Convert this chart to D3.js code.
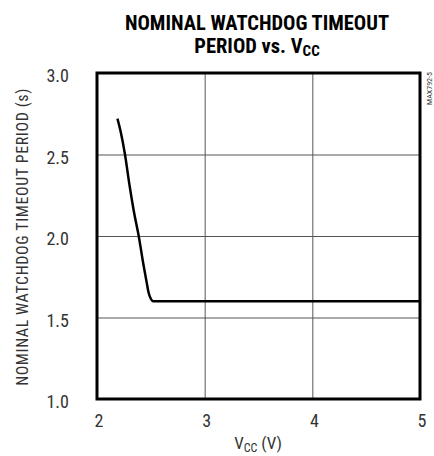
<!DOCTYPE html>
<html>
<head>
<meta charset="utf-8">
<script src="https://cdn.jsdelivr.net/npm/d3@7"></script>
<style>
  body { margin: 0; background: #fff; }
  text { font-family: "Liberation Sans Narrow", "Arial Narrow", "Roboto Condensed", sans-serif; }
</style>
</head>
<body>
<svg id="chart" width="434" height="456"></svg>
<script>
// Watchdog timeout period vs supply voltage
const vcc = [2.19, 2.22, 2.26, 2.30, 2.34, 2.39, 2.43, 2.46, 2.48, 2.50, 2.52, 2.60, 3.0, 4.0, 5.0];
const period = [2.72, 2.64, 2.50, 2.32, 2.16, 1.99, 1.83, 1.72, 1.65, 1.615, 1.60, 1.60, 1.60, 1.60, 1.60];
const xTicks = [2, 3, 4, 5];
const yTicks = [1.0, 1.5, 2.0, 2.5, 3.0];

const svg = d3.select('#chart');
const plot = { left: 97, right: 420, top: 73, bottom: 399 };

const x = d3.scaleLinear().domain([2, 5]).range([plot.left, plot.right]);
const y = d3.scaleLinear().domain([1, 3]).range([plot.bottom, plot.top]);

// grid
svg.append('g')
    .attr('transform', `translate(0,${plot.bottom})`)
    .call(d3.axisBottom(x).tickValues(xTicks.slice(1, -1)).tickSize(-(plot.bottom - plot.top)).tickFormat(''))
    .call(g => g.select('.domain').remove())
    .call(g => g.selectAll('line').attr('stroke', '#555').attr('stroke-width', 1));
svg.append('g')
    .attr('transform', `translate(${plot.left},0)`)
    .call(d3.axisLeft(y).tickValues(yTicks.slice(1, -1)).tickSize(-(plot.right - plot.left)).tickFormat(''))
    .call(g => g.select('.domain').remove())
    .call(g => g.selectAll('line').attr('stroke', '#555').attr('stroke-width', 1));

// frame
svg.append('rect')
    .attr('x', plot.left).attr('y', plot.top)
    .attr('width', plot.right - plot.left).attr('height', plot.bottom - plot.top)
    .attr('fill', 'none').attr('stroke', '#000').attr('stroke-width', 3);

// curve
const line = d3.line().x((d, i) => x(vcc[i])).y(d => y(d)).curve(d3.curveMonotoneX);
svg.append('path')
    .datum(period)
    .attr('d', line)
    .attr('fill', 'none')
    .attr('stroke', '#000')
    .attr('stroke-width', 2.5);

// tick labels
svg.selectAll('.xl').data(xTicks).enter().append('text')
    .attr('x', d => x(d) + 2).attr('y', 427)
    .attr('text-anchor', 'middle').attr('font-size', 18).attr('fill', '#333')
    .text(d => d);
svg.selectAll('.yl').data(yTicks).enter().append('text')
    .attr('x', 69).attr('y', d => y(d) + 9)
    .attr('text-anchor', 'end').attr('font-size', 18).attr('fill', '#333')
    .text(d => d.toFixed(1));

// axis titles
const xt = svg.append('text')
    .attr('x', 258).attr('y', 449)
    .attr('text-anchor', 'middle').attr('font-size', 17).attr('fill', '#333');
xt.append('tspan').text('V');
xt.append('tspan').attr('font-size', 12).attr('dy', 3).text('CC');
xt.append('tspan').attr('dy', -3).text(' (V)');

svg.append('text')
    .attr('transform', 'translate(28,237) rotate(-90)')
    .attr('text-anchor', 'middle').attr('font-size', 16).attr('letter-spacing', 0.6).attr('fill', '#333')
    .text('NOMINAL WATCHDOG TIMEOUT PERIOD (s)');

// title
svg.append('text')
    .attr('x', 257).attr('y', 30)
    .attr('text-anchor', 'middle').attr('font-size', 20.5).attr('font-weight', 'bold')
    .text('NOMINAL WATCHDOG TIMEOUT');
const t2 = svg.append('text')
    .attr('x', 257).attr('y', 53)
    .attr('text-anchor', 'middle').attr('font-size', 20.5).attr('font-weight', 'bold');
t2.append('tspan').text('PERIOD vs. V');
t2.append('tspan').attr('font-size', 15).attr('dy', 3).text('CC');

// part number tag
svg.append('text')
    .attr('transform', 'translate(432,72) rotate(-90)')
    .attr('text-anchor', 'end').attr('font-size', 8).attr('fill', '#333')
    .text('MAX792-5');
</script>
</body>
</html>
